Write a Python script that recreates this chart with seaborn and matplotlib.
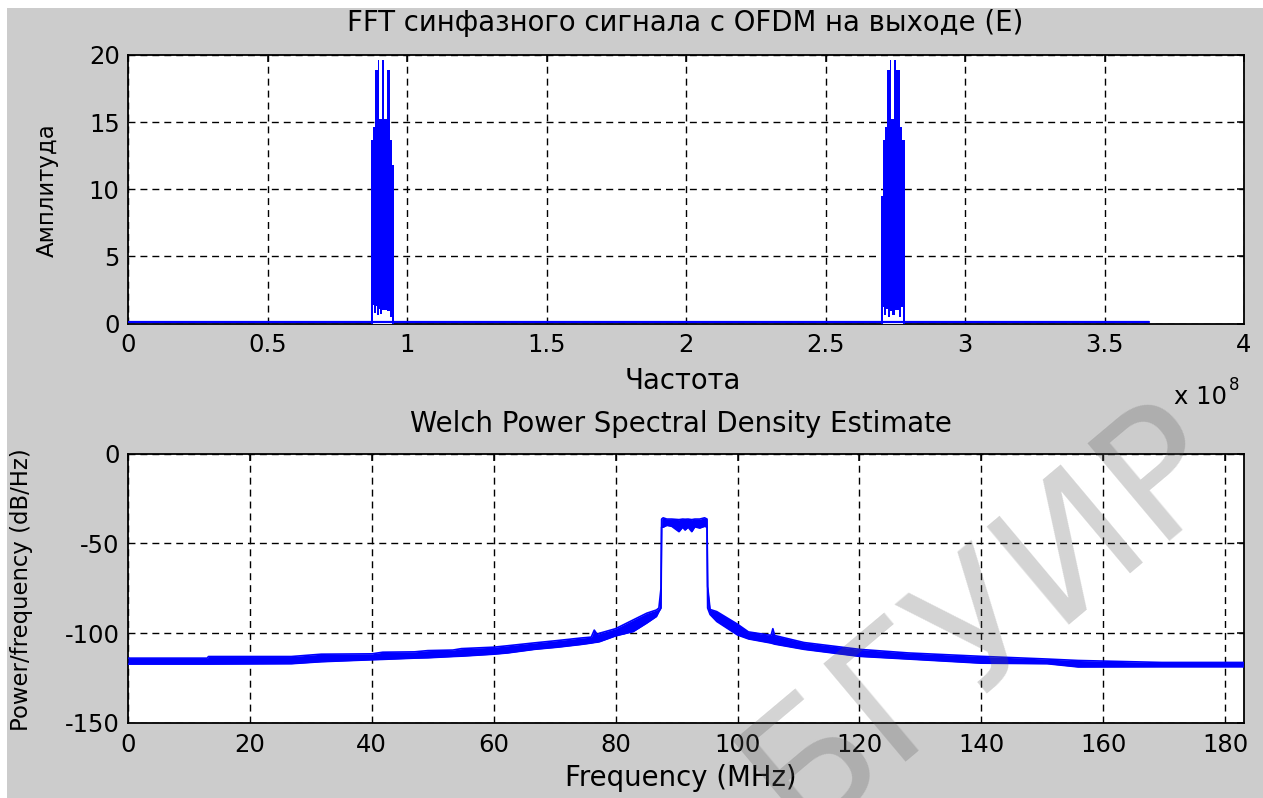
import matplotlib
matplotlib.use("Agg")
import matplotlib.pyplot as plt
from matplotlib.patches import Rectangle
import seaborn as sns

# top panel: FFT of the in-phase OFDM signal, frequency in units of 1e8 Hz
fft_base_x = [0.0, 3.66]
fft_base_y = [0.12, 0.12]

burst1_edges = [0.8706, 0.8777, 0.8861, 0.8957, 0.9004, 0.9112, 0.9160, 0.9280, 0.9375, 0.9459, 0.9543]
burst1_top = [13.7, 14.6, 18.9, 19.6, 15.2, 19.6, 15.2, 18.9, 13.7, 11.8]
burst1_low_edges = [0.8706, 0.8777, 0.8830, 0.8880, 0.8930, 0.8980, 0.9050, 0.9120, 0.9300, 0.9400, 0.9480, 0.9543]
burst1_low = [0.0, 1.4, 0.8, 1.3, 0.6, 1.1, 0.7, 1.0, 0.9, 0.5, 0.0]

burst2_edges = [2.6977, 2.7049, 2.7121, 2.7193, 2.7312, 2.7360, 2.7456, 2.7527, 2.7671, 2.7754, 2.7838]
burst2_top = [9.5, 13.7, 14.6, 18.9, 19.6, 15.2, 19.6, 18.9, 14.6, 13.7]
burst2_low_edges = [2.6977, 2.7060, 2.7110, 2.7160, 2.7230, 2.7300, 2.7400, 2.7500, 2.7620, 2.7700, 2.7780, 2.7838]
burst2_low = [0.0, 1.2, 0.6, 1.1, 0.5, 0.9, 0.6, 1.0, 0.5, 1.2, 0.0]

fft_xticks = [0, 0.5, 1, 1.5, 2, 2.5, 3, 3.5, 4]
fft_xlabels = ["0", "0.5", "1", "1.5", "2", "2.5", "3", "3.5", "4"]
fft_yticks = [0, 5, 10, 15, 20]

# bottom panel: Welch PSD (upper / lower edge of the noisy trace)
psd_freq = [0, 13.0, 13.2, 26.8, 31.7, 40.0, 41.8, 47.0, 49.2, 53.3, 54.7, 60.0, 62.3, 66.7,
            70.5, 74.3, 76.0, 76.5, 77.0, 77.4, 80.0, 82.9, 85.1, 86.7, 87.1, 87.45, 87.55,
            87.8, 88.4, 89.2, 90.4, 91.0, 91.4, 91.9, 92.5, 93.0, 93.8, 94.6, 95.0, 95.1,
            95.5, 96.6, 100.0, 101.8, 105.5, 105.8, 106.1, 110.9, 120.0, 128.0, 140.0,
            150.8, 155.9, 169.6, 183.0]
psd_upper = [-113.9, -113.9, -113.0, -113.0, -111.7, -111.5, -110.6, -110.4, -109.7, -109.4,
             -108.6, -107.8, -107.0, -105.4, -104.1, -102.7, -102.2, -98.3, -100.8, -100.0,
             -97.5, -92.6, -88.9, -87.1, -86.0, -75.0, -36.5, -35.8, -36.5, -36.5, -36.8,
             -36.5, -36.6, -36.5, -36.8, -36.5, -36.5, -35.8, -36.5, -74.0, -86.8, -88.0,
             -95.0, -99.3, -101.2, -97.5, -101.3, -105.2, -109.0, -111.0, -112.9, -114.4,
             -115.2, -116.3, -116.3]
psd_lower = [-117.2, -117.2, -117.2, -117.0, -115.9, -114.8, -114.6, -113.9, -113.7, -113.0,
             -112.8, -111.7, -111.0, -109.0, -107.8, -106.3, -105.5, -105.2, -105.0, -104.7,
             -101.5, -99.1, -94.4, -90.7, -88.0, -86.0, -41.0, -41.0, -40.0, -40.5, -43.5,
             -41.0, -42.6, -41.0, -43.5, -40.8, -41.5, -40.5, -41.0, -86.0, -89.6, -93.5,
             -101.0, -103.2, -105.5, -105.8, -106.1, -109.0, -112.9, -114.4, -116.7, -117.0,
             -118.8, -118.7, -118.7]
psd_xticks = [0, 20, 40, 60, 80, 100, 120, 140, 160, 180]
psd_yticks = [-150, -100, -50, 0]

sns.set_style("white")
plt.rcParams['font.family'] = ['DejaVu Sans']
plt.rcParams['axes.unicode_minus'] = False
plt.rcParams['text.color'] = 'black'

W, H = 1263, 798
blue = "#0000ff"
fs_tick = 17.5
fs_lab = 19.8
fs_ylab = 16.4

fig = plt.figure(figsize=(W / 100, H / 100), dpi=100)
fig.patch.set_facecolor("white")
fig.add_artist(Rectangle((7 / W, 0), 1, 1 - 8 / H, transform=fig.transFigure,
                         facecolor="#cccccc", edgecolor="none", zorder=-10))

ax1 = fig.add_axes([128 / W, 1 - 323.5 / H, 1116 / W, 268.5 / H])
ax2 = fig.add_axes([128 / W, 1 - 723 / H, 1116 / W, 269.5 / H])


def style_axis(ax):
    ax.set_facecolor("white")
    for s in ax.spines.values():
        s.set_visible(True)
        s.set_color("black")
        s.set_linewidth(1.3)
    ax.grid(True, color="black", linestyle=(0, (5, 3.6)), linewidth=1.0)
    ax.tick_params(direction="in", length=5, width=1.1, top=True, right=True,
                   labelsize=fs_tick, colors="black", pad=7)
    ax.tick_params(axis="y", pad=6)
    ax.set_xlabel("")
    ax.set_ylabel("")


# --- top panel
ax1.fill_between(burst1_edges, burst1_top + [burst1_top[-1]], step="post",
                 color=blue, linewidth=0, zorder=3)
ax1.fill_between(burst2_edges, burst2_top + [burst2_top[-1]], step="post",
                 color=blue, linewidth=0, zorder=3)
ax1.fill_between(burst1_low_edges, burst1_low + [0.0], step="post",
                 color="white", linewidth=0, zorder=4)
ax1.fill_between(burst2_low_edges, burst2_low + [0.0], step="post",
                 color="white", linewidth=0, zorder=4)
sns.lineplot(x=fft_base_x, y=fft_base_y, ax=ax1, color=blue, linewidth=1.6,
             estimator=None, sort=False, zorder=5)
ax1.set_xlim(0, 4)
ax1.set_ylim(0, 20)
ax1.set_xticks(fft_xticks)
ax1.set_xticklabels(fft_xlabels)
ax1.set_yticks(fft_yticks)
style_axis(ax1)

# --- bottom panel
ax2.fill_between(psd_freq, psd_lower, psd_upper, color=blue, linewidth=0, zorder=3)
sns.lineplot(x=psd_freq, y=psd_upper, ax=ax2, color=blue, linewidth=1.2,
             estimator=None, sort=False, zorder=4)
sns.lineplot(x=psd_freq, y=psd_lower, ax=ax2, color=blue, linewidth=1.2,
             estimator=None, sort=False, zorder=4)
ax2.set_xlim(0, 183.1)
ax2.set_ylim(-150, 0)
ax2.set_xticks(psd_xticks)
ax2.set_yticks(psd_yticks)
style_axis(ax2)


def ftext(x, y, s, **kw):
    kw.setdefault("fontsize", fs_lab)
    fig.text(x / W, 1 - y / H, s, ha="center", va="center", color="black", **kw)


ftext(685, 23, "FFT синфазного сигнала с OFDM на выходе (E)")
ftext(683, 381, "Частота")
ftext(47, 190, "Амплитуда", rotation=90, fontsize=fs_ylab)
ftext(1201, 397, "x 10", fontsize=fs_tick)
fig.text(1229 / W, 1 - 385 / H, "8", ha="left", va="center", fontsize=12, color="black")
ftext(681, 424, "Welch Power Spectral Density Estimate")
ftext(681, 778, "Frequency (MHz)")
ftext(22, 590, "Power/frequency (dB/Hz)", rotation=90, fontsize=fs_ylab)

# watermark
fig.text(985 / W, 1 - 617 / H, "БГУИР", ha="center", va="center", fontsize=126,
         rotation=40, color="#595959", alpha=0.26, family="DejaVu Sans", zorder=20)

fig.savefig("out.png", dpi=100, facecolor=fig.get_facecolor())
